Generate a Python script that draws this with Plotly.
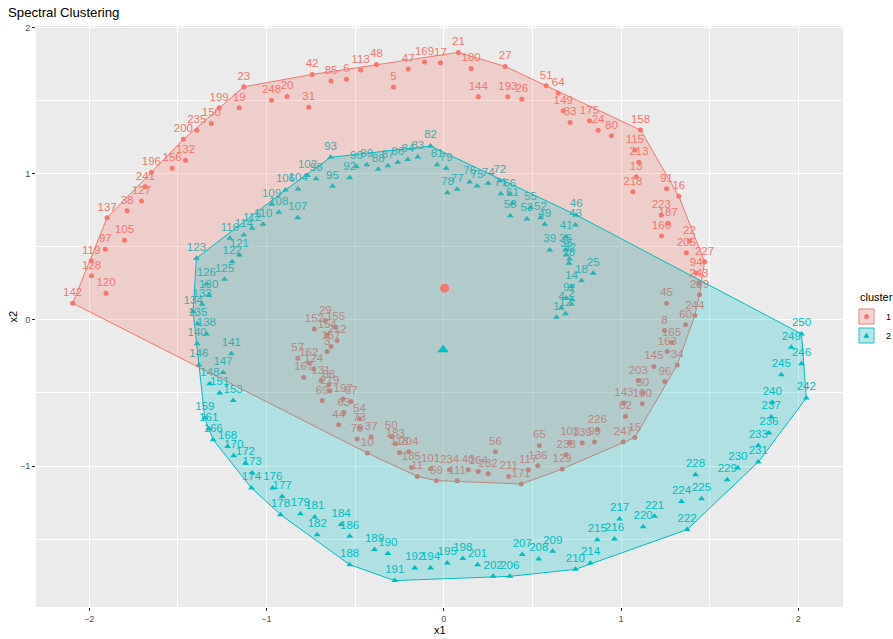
import plotly.graph_objects as go

# ---- cluster 1 (red, circles) ----
red_id = [3, 5, 6, 8, 10, 11, 13, 15, 16, 17, 19, 20, 21, 22, 23, 24, 26, 27, 29, 30,
          31, 33, 34, 37, 38, 40, 42, 44, 45, 47, 48, 50, 51, 54, 56, 57, 59, 60, 62, 63,
          64, 65, 67, 68, 69, 70, 73, 80, 85, 91, 94, 96, 97, 99, 100, 101, 103, 105, 111, 113,
          115, 117, 118, 119, 120, 124, 127, 128, 129, 131, 132, 136, 137, 139, 142, 143, 144, 145, 149, 150,
          152, 154, 155, 156, 157, 158, 160, 162, 163, 164, 165, 167, 169, 171, 175, 180, 183, 185, 187, 193,
          196, 197, 199, 200, 203, 204, 205, 211, 212, 213, 218, 219, 223, 226, 227, 232, 234, 235, 238, 239,
          241, 243, 244, 247, 248]
red_x1 = [-0.657, -0.283, -0.548, 1.245, -0.431, -0.149, 1.086, 1.078, 1.326, -0.018,
          -1.153, -0.883, 0.083, 1.386, -1.127, 0.871, 0.441, 0.347, -0.667, 1.123,
          -0.761, 0.713, 1.317, -0.409, -1.785, 0.138, -0.742, -0.592, 1.257, -0.200,
          -0.379, -0.296, 0.578, -0.475, 0.292, -0.823, -0.041, 1.364, 1.025, -0.563,
          0.646, 0.540, -0.522, -0.648, -0.685, -0.488, -0.475, 0.946, -0.635, 1.257,
          1.424, 1.247, -1.908, 0.851, 1.120, -0.074, 0.711, -1.800, 0.076, -0.468,
          1.078, 0.477, -0.249, -1.988, -1.904, -0.733, -1.704, -1.986, 0.668, -0.691,
          -1.456, 0.531, -1.898, 0.781, -2.092, 1.016, 0.195, 1.185, 0.674, -1.310,
          -0.729, -0.657, -0.610, -1.531, -0.635, 1.110, 1.228, -0.761, 1.261, 0.195,
          1.285, -0.789, -0.108, 0.437, 0.822, 0.155, -0.272, -0.182, 1.266, 0.362,
          -1.648, -0.567, -1.266, -1.468, 1.097, -0.197, 1.368, 0.367, -0.601, 1.100,
          1.067, -0.642, 1.227, 0.866, 1.471, 0.251, 0.033, -1.392, 0.691, 1.443,
          -1.682, 1.439, 1.416, 1.012, -0.971]
red_x2 = [-0.217, 1.593, 1.647, -0.073, -0.911, -1.071, 0.980, -0.805, 0.846, 1.759,
          1.451, 1.529, 1.830, 0.540, 1.595, 1.297, 1.509, 1.734, -0.005, -0.501,
          1.454, 1.351, -0.308, -0.800, 0.747, -1.025, 1.679, -0.718, 0.114, 1.716,
          1.748, -0.798, 1.602, -0.677, -0.902, -0.262, -1.100, -0.034, -0.661, -0.634,
          1.552, -0.859, -0.558, -0.444, -0.552, -0.815, -0.740, 1.260, 1.634, 0.897,
          0.321, -0.422, 0.483, -0.836, -0.574, -1.018, -0.839, 0.545, -1.100, 1.709,
          1.162, -1.025, -0.907, 0.405, 0.182, -0.337, 0.813, 0.301, -1.021, -0.415,
          1.092, -0.998, 0.699, -0.843, 0.114, -0.569, 1.526, -0.319, 1.431, 1.344,
          -0.062, -0.103, -0.050, 1.037, -0.182, 1.299, 0.574, -0.296, -0.217, -1.037,
          -0.155, -0.394, 1.764, -1.123, 1.362, 1.720, -0.848, -1.010, 0.661, 1.526,
          1.010, -0.542, 1.451, 1.235, -0.415, -0.902, 0.460, -1.071, -0.141, 1.078,
          0.877, -0.485, 0.718, -0.752, 0.398, -1.053, -1.025, 1.297, -0.923, 0.171,
          0.911, 0.248, 0.029, -0.836, 1.502]

# ---- cluster 2 (teal, triangles) ----
teal_id = [1, 2, 4, 7, 9, 12, 14, 18, 25, 28, 32, 35, 36, 39, 41, 43, 46, 49, 52, 53,
           55, 58, 61, 66, 71, 72, 74, 75, 76, 77, 78, 79, 81, 82, 83, 84, 86, 87, 88, 89,
           90, 92, 93, 95, 98, 102, 104, 106, 107, 108, 109, 110, 112, 114, 116, 121, 122, 123, 125, 126,
           130, 133, 134, 135, 138, 140, 141, 146, 147, 148, 151, 153, 159, 161, 166, 168, 170, 172, 173, 174,
           176, 177, 178, 179, 181, 182, 184, 186, 188, 189, 190, 191, 192, 194, 195, 198, 201, 202, 206, 207,
           208, 209, 210, 214, 215, 216, 217, 220, 221, 222, 224, 225, 228, 229, 230, 231, 233, 236, 237, 240,
           242, 245, 246, 249, 250]
teal_x1 = [0.636, 0.721, 0.664, 0.725, 0.691, 0.687, 0.721, 0.777, 0.843, 0.706,
           0.710, 0.693, 0.687, 0.598, 0.691, 0.743, 0.747, 0.570, 0.546, 0.469,
           0.490, 0.375, 0.388, 0.373, 0.322, 0.316, 0.251, 0.189, 0.146, 0.076,
           0.021, 0.014, -0.037, -0.074, -0.146, -0.202, -0.259, -0.315, -0.369, -0.434,
           -0.492, -0.530, -0.638, -0.627, -0.719, -0.768, -0.821, -0.892, -0.823, -0.930,
           -0.971, -1.018, -1.080, -1.127, -1.206, -1.152, -1.193, -1.394, -1.236, -1.338,
           -1.325, -1.362, -1.413, -1.387, -1.338, -1.390, -1.197, -1.381, -1.244, -1.319,
           -1.263, -1.187, -1.347, -1.325, -1.300, -1.218, -1.184, -1.118, -1.080, -1.084,
           -0.964, -0.911, -0.920, -0.808, -0.727, -0.713, -0.578, -0.530, -0.530, -0.390,
           -0.315, -0.276, -0.163, -0.074, 0.020, 0.108, 0.191, 0.279, 0.373, 0.443,
           0.536, 0.615, 0.743, 0.828, 0.866, 0.963, 0.992, 1.125, 1.189, 1.373,
           1.341, 1.454, 1.420, 1.599, 1.659, 1.774, 1.774, 1.834, 1.847, 1.853,
           2.045, 1.904, 2.018, 1.960, 2.018]
teal_x2 = [0.018, 0.107, 0.082, 0.137, 0.148, 0.041, 0.228, 0.267, 0.319, 0.388,
           0.417, 0.444, 0.478, 0.478, 0.569, 0.649, 0.718, 0.654, 0.699, 0.690,
           0.768, 0.713, 0.798, 0.859, 0.863, 0.952, 0.934, 0.916, 0.943, 0.893,
           0.870, 1.037, 1.062, 1.189, 1.114, 1.098, 1.078, 1.055, 1.030, 1.062,
           1.048, 0.973, 1.112, 0.914, 0.966, 0.988, 0.895, 0.889, 0.699, 0.736,
           0.791, 0.654, 0.627, 0.581, 0.558, 0.444, 0.398, 0.422, 0.278, 0.246,
           0.166, 0.107, 0.057, -0.027, -0.096, -0.164, -0.232, -0.308, -0.360, -0.437,
           -0.501, -0.552, -0.672, -0.745, -0.820, -0.866, -0.930, -0.980, -1.048, -1.150,
           -1.150, -1.208, -1.333, -1.326, -1.349, -1.470, -1.401, -1.481, -1.675, -1.572,
           -1.599, -1.784, -1.697, -1.697, -1.663, -1.632, -1.675, -1.755, -1.755, -1.606,
           -1.636, -1.584, -1.707, -1.663, -1.504, -1.499, -1.362, -1.415, -1.344, -1.435,
           -1.242, -1.224, -1.059, -1.094, -1.014, -0.973, -0.859, -0.774, -0.665, -0.563,
           -0.535, -0.376, -0.301, -0.187, -0.096]

# cluster centres
center_x1 = [0.005, -0.003]
center_x2 = [0.217, -0.205]
cluster_names = ["1", "2"]

RED = "#F8766D"
TEAL = "#00BFC4"
RED_FILL = "rgba(248,118,109,0.25)"
TEAL_FILL = "rgba(0,191,196,0.25)"
FONT = "Liberation Sans, Arial, sans-serif"


def convex_hull(xs, ys):
    """Andrew's monotone chain; returns a closed ring of hull vertices."""
    pts = sorted(set(zip(xs, ys)))

    def cross(o, a, b):
        return (a[0] - o[0]) * (b[1] - o[1]) - (a[1] - o[1]) * (b[0] - o[0])

    lower, upper = [], []
    for p in pts:
        while len(lower) >= 2 and cross(lower[-2], lower[-1], p) <= 0:
            lower.pop()
        lower.append(p)
    for p in reversed(pts):
        while len(upper) >= 2 and cross(upper[-2], upper[-1], p) <= 0:
            upper.pop()
        upper.append(p)
    ring = lower[:-1] + upper[:-1]
    ring.append(ring[0])
    return [p[0] for p in ring], [p[1] for p in ring]


fig = go.Figure()

# points with their labels (drawn below the hull fills)
fig.add_trace(go.Scatter(
    x=red_x1, y=red_x2, mode="markers+text",
    text=[str(i) for i in red_id], textposition="top center",
    textfont=dict(family=FONT, size=11.5, color=RED),
    marker=dict(symbol="circle", size=5, color=RED, line=dict(width=0)),
    showlegend=False, hoverinfo="skip"))
fig.add_trace(go.Scatter(
    x=teal_x1, y=teal_x2, mode="markers+text",
    text=[str(i) for i in teal_id], textposition="top center",
    textfont=dict(family=FONT, size=11.5, color=TEAL),
    marker=dict(symbol="triangle-up", size=6, color=TEAL, line=dict(width=0)),
    showlegend=False, hoverinfo="skip"))

# convex hull frames
for xs, ys, col, fill in [(red_x1, red_x2, RED, RED_FILL),
                          (teal_x1, teal_x2, TEAL, TEAL_FILL)]:
    hx, hy = convex_hull(xs, ys)
    fig.add_trace(go.Scatter(
        x=hx, y=hy, mode="lines", fill="toself", fillcolor=fill,
        line=dict(color=col, width=1), showlegend=False, hoverinfo="skip"))

# cluster centres
fig.add_trace(go.Scatter(
    x=[center_x1[0]], y=[center_x2[0]], mode="markers",
    marker=dict(symbol="circle", size=9, color=RED, line=dict(width=0)),
    showlegend=False, hoverinfo="skip"))
fig.add_trace(go.Scatter(
    x=[center_x1[1]], y=[center_x2[1]], mode="markers",
    marker=dict(symbol="triangle-up", size=10, color=TEAL, line=dict(width=0)),
    showlegend=False, hoverinfo="skip"))

# axis limits: data range expanded by 5% on each side
all_x = red_x1 + teal_x1
all_y = red_x2 + teal_x2
xpad = 0.05 * (max(all_x) - min(all_x))
ypad = 0.05 * (max(all_y) - min(all_y))

axis_common = dict(
    showgrid=True, gridcolor="white", gridwidth=1.1,
    zeroline=False, showline=False,
    ticks="outside", ticklen=3, tickwidth=1, tickcolor="#333333",
    tickfont=dict(family=FONT, size=9, color="#4D4D4D"),
    dtick=1, tick0=0,
    minor=dict(dtick=0.5, tick0=0, showgrid=True, gridcolor="white",
               gridwidth=0.55, ticks=""),
)

# compact legend drawn in paper space to the right of the panel
W, H = 893, 639
ML, MR, MT, MB = 36, 50, 26, 32
PW, PH = W - ML - MR, H - MT - MB


def px_x(px):
    return (px - ML) / PW


def px_y(py):
    return (H - MB - py) / PH


shapes = []
annotations = [
    dict(text="x1", xref="paper", yref="paper", x=0.5, y=px_y(630),
         xanchor="center", yanchor="middle", showarrow=False,
         font=dict(family=FONT, size=11, color="black")),
    dict(text="x2", xref="paper", yref="paper", x=px_x(12), y=0.5,
         xanchor="center", yanchor="middle", showarrow=False, textangle=-90,
         font=dict(family=FONT, size=11, color="black")),
    dict(text="cluster", xref="paper", yref="paper", x=px_x(858), y=px_y(297),
         xanchor="left", yanchor="middle", showarrow=False,
         font=dict(family=FONT, size=11, color="black")),
]
key_top = 308
key_size = 17
for k, (name, col, fill) in enumerate([(cluster_names[0], RED, RED_FILL),
                                       (cluster_names[1], TEAL, TEAL_FILL)]):
    top = key_top + k * (key_size + 2)
    cx, cy = 858 + key_size / 2, top + key_size / 2
    shapes.append(dict(type="rect", xref="paper", yref="paper",
                       x0=px_x(858), x1=px_x(858 + key_size),
                       y0=px_y(top + key_size), y1=px_y(top),
                       fillcolor="#F2F2F2", line=dict(width=0), layer="above"))
    shapes.append(dict(type="rect", xref="paper", yref="paper",
                       x0=px_x(859), x1=px_x(857 + key_size),
                       y0=px_y(top + key_size - 1), y1=px_y(top + 1),
                       fillcolor=fill, line=dict(color=col, width=0.8), layer="above"))
    if k == 0:
        shapes.append(dict(type="circle", xref="paper", yref="paper",
                           x0=px_x(cx - 2.5), x1=px_x(cx + 2.5),
                           y0=px_y(cy + 2.5), y1=px_y(cy - 2.5),
                           fillcolor=col, line=dict(width=0), layer="above"))
    else:
        shapes.append(dict(type="path", xref="paper", yref="paper",
                           path=(f"M {px_x(cx - 3)},{px_y(cy + 2.3)} "
                                 f"L {px_x(cx + 3)},{px_y(cy + 2.3)} "
                                 f"L {px_x(cx)},{px_y(cy - 3)} Z"),
                           fillcolor=col, line=dict(width=0), layer="above"))
    annotations.append(dict(text=name, xref="paper", yref="paper",
                            x=px_x(884), y=px_y(cy), xanchor="left", yanchor="middle",
                            showarrow=False, font=dict(family=FONT, size=9, color="black")))

fig.update_layout(
    width=W, height=H,
    margin=dict(l=ML, r=MR, t=MT, b=MB, autoexpand=False),
    paper_bgcolor="white", plot_bgcolor="#EBEBEB",
    font=dict(family=FONT),
    showlegend=False,
    title=dict(text="Spectral Clustering", x=8 / W, xref="container",
               xanchor="left", y=1 - 12 / H, yref="container",
               yanchor="middle", font=dict(family=FONT, size=13.2, color="black")),
    xaxis=dict(range=[min(all_x) - xpad, max(all_x) + xpad], **axis_common),
    yaxis=dict(range=[min(all_y) - ypad, max(all_y) + ypad], **axis_common),
    shapes=shapes,
    annotations=annotations,
)

fig.write_html("out.html")
